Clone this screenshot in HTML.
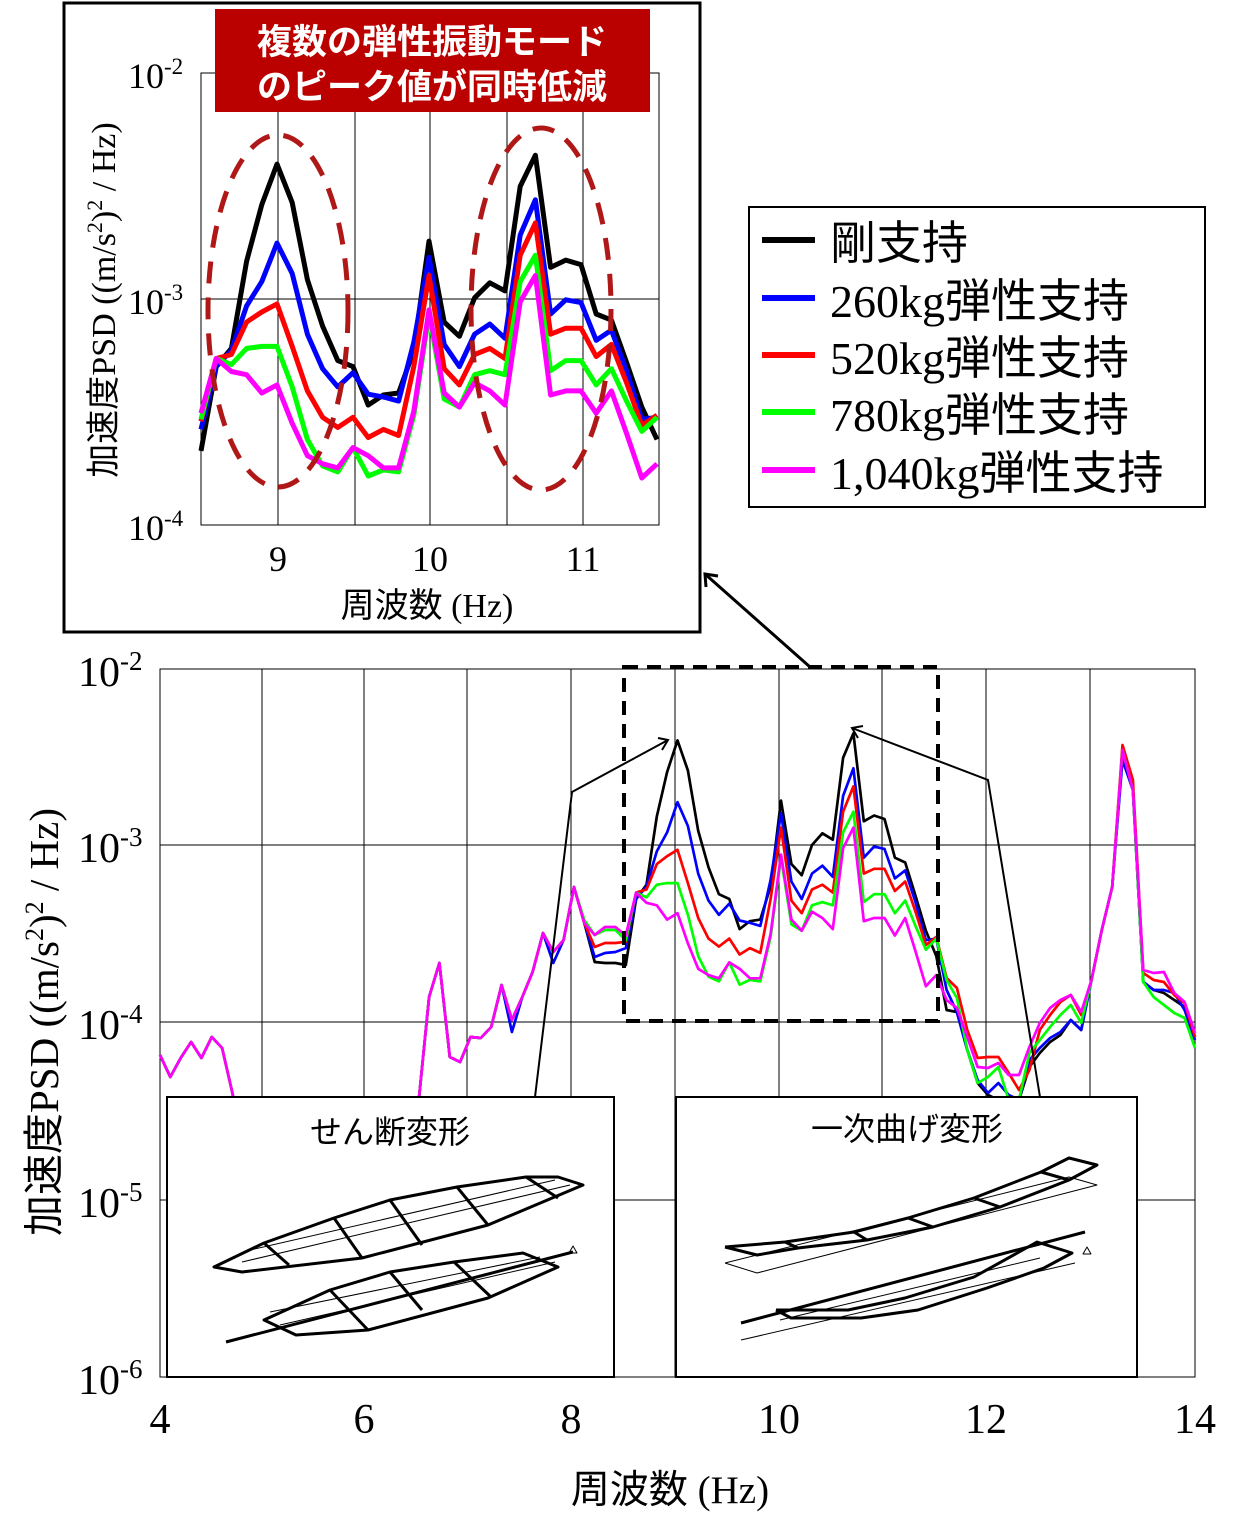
<!DOCTYPE html>
<html><head><meta charset="utf-8">
<style>
html,body{margin:0;padding:0;background:#fff;}
svg{display:block;}
.s{font-family:"Liberation Serif","Noto Sans CJK JP",serif;}
.j{font-family:"Liberation Sans","Noto Sans CJK JP",sans-serif;}
</style></head>
<body>
<svg id="c" width="1249" height="1538" viewBox="0 0 1249 1538" xmlns="http://www.w3.org/2000/svg">
<rect width="1249" height="1538" fill="#fff"/>
<g stroke="#000" stroke-width="1" fill="none">
<rect x="160" y="669" width="1035" height="708"/>
<line x1="262" y1="669" x2="262" y2="1377"/><line x1="364" y1="669" x2="364" y2="1377"/>
<line x1="467" y1="669" x2="467" y2="1377"/><line x1="571" y1="669" x2="571" y2="1377"/>
<line x1="675" y1="669" x2="675" y2="1377"/><line x1="779" y1="669" x2="779" y2="1377"/>
<line x1="882" y1="669" x2="882" y2="1377"/><line x1="986" y1="669" x2="986" y2="1377"/>
<line x1="1090" y1="669" x2="1090" y2="1377"/>
<line x1="160" y1="845" x2="1195" y2="845"/><line x1="160" y1="1022" x2="1195" y2="1022"/>
<line x1="160" y1="1200" x2="1195" y2="1200"/>
</g>
<g id="main" fill="none" stroke-width="2.7" stroke-linejoin="round"></g>
<rect x="624" y="667" width="314" height="354" fill="none" stroke="#000" stroke-width="4" stroke-dasharray="14,9"/>
<g stroke="#000" stroke-width="2" fill="none">
<polyline points="535,1097 572,792 668,740"/>
<polyline points="658,738 668,740 662,750"/>
<polyline points="1040,1097 988,780 852,728"/>
<polyline points="863,726 852,728 858,738"/>
</g>
<g stroke="#000" stroke-width="3" fill="none">
<line x1="810" y1="667" x2="705" y2="574"/>
<polyline points="706,587 705,574 718,576"/>
</g>
<g stroke="#000" fill="#fff">
<rect x="167" y="1097" width="447" height="280" stroke-width="2"/>
<rect x="676" y="1097" width="461" height="280" stroke-width="2"/>
</g>
<text x="390" y="1143" class="j" font-size="32" text-anchor="middle">せん断変形</text>
<text x="907" y="1140" class="j" font-size="32" text-anchor="middle">一次曲げ変形</text>
<g fill="none" stroke="#000" stroke-linejoin="round">
<g stroke-width="3">
<polygon points="214,1267 242,1272 362,1258 488,1225 583,1185 558,1177 526,1177 457,1187 390,1200 334,1218 264,1243"/>
<line x1="264" y1="1243" x2="289" y2="1265"/><line x1="334" y1="1218" x2="362" y2="1258"/>
<line x1="390" y1="1200" x2="422" y2="1245"/><line x1="457" y1="1187" x2="488" y2="1225"/>
<line x1="526" y1="1177" x2="558" y2="1198"/>
<polygon points="264,1320 296,1335 368,1330 488,1298 558,1267 523,1253 454,1262 390,1272 330,1290"/>
<line x1="330" y1="1290" x2="368" y2="1330"/><line x1="390" y1="1272" x2="422" y2="1310"/>
<line x1="454" y1="1262" x2="491" y2="1297"/>
<line x1="226" y1="1342" x2="573" y2="1252"/>
</g>
<g stroke-width="1">
<line x1="242" y1="1262" x2="570" y2="1185"/><line x1="250" y1="1250" x2="555" y2="1180"/>
<line x1="280" y1="1325" x2="555" y2="1262"/><line x1="270" y1="1312" x2="540" y2="1257"/>
<polygon points="569,1253 573,1246 577,1253"/>
<polyline points="725,1263 757,1273 1097,1185 1069,1177 725,1263"/>
<line x1="741" y1="1340" x2="1075" y2="1263"/>
<polygon points="1083,1254 1087,1247 1091,1254"/>
<line x1="780" y1="1320" x2="1040" y2="1258"/>
</g>
<g stroke-width="3">
<polyline points="725,1247 785,1242 854,1232 908,1218 974,1198 1041,1172 1069,1158 1097,1165 1069,1180 1000,1207 933,1227 867,1240 798,1248 757,1255 725,1247"/>
<line x1="785" y1="1242" x2="798" y2="1248"/><line x1="854" y1="1232" x2="867" y2="1240"/>
<line x1="908" y1="1218" x2="933" y2="1227"/><line x1="974" y1="1198" x2="1000" y2="1207"/>
<line x1="1041" y1="1172" x2="1069" y2="1180"/>
<line x1="741" y1="1323" x2="1085" y2="1232"/>
<polyline points="776,1310 848,1310 905,1298 974,1277 1037,1242 1072,1253 1044,1268 987,1288 918,1310 861,1318 791,1318 776,1310"/>
</g>
</g>
<g class="s" font-size="42" fill="#000">
<text x="78" y="686">10<tspan font-size="27" dy="-16">-2</tspan></text>
<text x="78" y="862">10<tspan font-size="27" dy="-16">-3</tspan></text>
<text x="78" y="1039">10<tspan font-size="27" dy="-16">-4</tspan></text>
<text x="78" y="1217">10<tspan font-size="27" dy="-16">-5</tspan></text>
<text x="78" y="1394">10<tspan font-size="27" dy="-16">-6</tspan></text>
</g>
<g class="s" font-size="42" text-anchor="middle">
<text x="160" y="1433">4</text><text x="364" y="1433">6</text><text x="571" y="1433">8</text>
<text x="779" y="1433">10</text><text x="986" y="1433">12</text><text x="1195" y="1433">14</text>
</g>
<text x="670" y="1503" class="s" font-size="39" text-anchor="middle">周波数 (Hz)</text>
<text transform="translate(58,1022) rotate(-90)" class="s" font-size="41" text-anchor="middle">加速度PSD ((m/s<tspan font-size="26" dy="-15">2</tspan><tspan dy="15">)</tspan><tspan font-size="26" dy="-15">2</tspan><tspan dy="15"> / Hz)</tspan></text>

<rect x="64" y="3" width="636" height="629" fill="#fff" stroke="#000" stroke-width="3"/>
<g stroke="#000" stroke-width="1" fill="none">
<rect x="201" y="73" width="458" height="452"/>
<line x1="278" y1="73" x2="278" y2="525"/><line x1="355" y1="73" x2="355" y2="525"/>
<line x1="430" y1="73" x2="430" y2="525"/><line x1="507" y1="73" x2="507" y2="525"/>
<line x1="583" y1="73" x2="583" y2="525"/><line x1="201" y1="299" x2="659" y2="299"/>
</g>
<g id="ins" fill="none" stroke-width="5" stroke-linejoin="round"></g>
<g fill="none" stroke="#b01818" stroke-width="5" stroke-dasharray="22,14">
<ellipse cx="278" cy="311" rx="70" ry="176"/>
<ellipse cx="541" cy="309" rx="70" ry="181"/>
</g>
<rect x="215" y="9" width="435" height="103" fill="#bb0000"/>
<text x="432" y="54" class="j" font-size="35" fill="#fff" text-anchor="middle" font-weight="bold">複数の弾性振動モード</text>
<text x="432" y="99" class="j" font-size="35" fill="#fff" text-anchor="middle" font-weight="bold">のピーク値が同時低減</text>
<g class="s" font-size="36" fill="#000">
<text x="128" y="88">10<tspan font-size="23" dy="-14">-2</tspan></text>
<text x="128" y="314">10<tspan font-size="23" dy="-14">-3</tspan></text>
<text x="128" y="540">10<tspan font-size="23" dy="-14">-4</tspan></text>
</g>
<g class="s" font-size="36" text-anchor="middle">
<text x="278" y="571">9</text><text x="430" y="571">10</text><text x="583" y="571">11</text>
</g>
<text x="427" y="617" class="s" font-size="34" text-anchor="middle">周波数 (Hz)</text>
<text transform="translate(115,300) rotate(-90)" class="s" font-size="34" text-anchor="middle">加速度PSD ((m/s<tspan font-size="22" dy="-13">2</tspan><tspan dy="13">)</tspan><tspan font-size="22" dy="-13">2</tspan><tspan dy="13"> / Hz)</tspan></text>

<rect x="749" y="207" width="456" height="300" fill="#fff" stroke="#000" stroke-width="2"/>
<g stroke-width="6">
<line x1="762" y1="240" x2="815" y2="240" stroke="#000"/>
<line x1="762" y1="298" x2="815" y2="298" stroke="#0000ff"/>
<line x1="762" y1="355" x2="815" y2="355" stroke="#ff0000"/>
<line x1="762" y1="412" x2="815" y2="412" stroke="#00ff00"/>
<line x1="762" y1="470" x2="815" y2="470" stroke="#ff00ff"/>
</g>
<g class="s" font-size="46">
<text x="830" y="259">剛支持</text>
<text x="830" y="317">260kg弾性支持</text>
<text x="830" y="374">520kg弾性支持</text>
<text x="830" y="431">780kg弾性支持</text>
<text x="830" y="489">1,040kg弾性支持</text>
</g>
</svg>
<script>
(function(){
var NS="http://www.w3.org/2000/svg";
var common=[1055,1077,1058,1042,1058,1037,1048,1093];
for(var i=0;i<17;i++)common.push(1150);
common.push(1100);
var mid=[997,963,1057,1062,1037,1038,1027,985,1020,997,972,933,952,940,887];
var ins={
k:[1108,900,855,640,500,400,495,685,800,885,900,995,970,965,860,590,790,825,730,693,713,455,378,655,637,648,770,785,890,1000,1080],
b:[1055,900,860,750,690,595,670,820,905,950,915,968,975,985,840,630,845,900,820,795,830,575,488,770,735,742,835,810,910,1030,1025],
r:[1035,880,870,790,765,745,850,960,1025,1050,1025,1075,1055,1070,900,675,905,945,870,855,880,625,545,820,805,805,875,845,940,1045,1020],
g:[1030,880,895,855,850,850,950,1080,1145,1160,1100,1170,1155,1160,1020,770,980,1000,920,910,920,690,625,910,885,885,945,905,985,1060,1025],
m:[1015,880,912,920,965,945,1040,1120,1140,1150,1100,1120,1150,1150,1010,760,965,1000,940,960,995,740,675,970,960,960,1015,960,1065,1175,1140]};
var pre={k:[923,962,963,963],b:[923,957,953,952],r:[923,947,943,943],g:[920,935,930,930],m:[923,935,927,927]};
var post={
k:[1010,1012,1050,1083,1095,1100,1100,1100,1067,1053,1042,1035,1020,1030,980,930,887,752,790,982,990,993,1000,1007,1037],
b:[990,1012,1050,1080,1093,1083,1095,1100,1060,1048,1038,1032,1020,1030,980,930,887,760,790,982,990,990,993,1010,1040],
r:[978,988,1030,1058,1057,1057,1073,1090,1070,1030,1015,1002,995,1015,980,930,887,745,780,973,980,982,995,1003,1037],
g:[980,998,1050,1083,1077,1067,1100,1100,1053,1040,1027,1015,1005,1023,980,930,887,750,790,982,997,1005,1013,1018,1048],
m:[1000,1008,1037,1067,1068,1063,1075,1075,1047,1023,1008,1000,995,1012,980,930,887,750,790,970,973,972,993,1002,1033]};
var cols={k:"#000",b:"#0000ff",r:"#ff0000",g:"#00ff00",m:"#ff00ff"};
var order=["k","b","r","g","m"];
var gm=document.getElementById("main"),gi=document.getElementById("ins");
order.forEach(function(s){
 var m2=mid.slice();
 if(s=="b"){m2[8]=1032;m2[12]=963;}
 var ys=common.concat(m2,pre[s],ins[s].map(function(z){return 846+(z-733)*0.3172;}),post[s]);
 var pts=[];
 for(var i=0;i<ys.length;i++){pts.push((160+i*10.35).toFixed(1)+","+ys[i].toFixed(1));}
 var p=document.createElementNS(NS,"polyline");
 p.setAttribute("points",pts.join(" "));p.setAttribute("stroke",cols[s]);gm.appendChild(p);
 var pi=[];
 ins[s].forEach(function(z,i){pi.push((201+i*15.2).toFixed(1)+","+(299+(z-733)*0.405).toFixed(1));});
 var q=document.createElementNS(NS,"polyline");
 q.setAttribute("points",pi.join(" "));q.setAttribute("stroke",cols[s]);gi.appendChild(q);
});
})();
</script>
</body></html>
